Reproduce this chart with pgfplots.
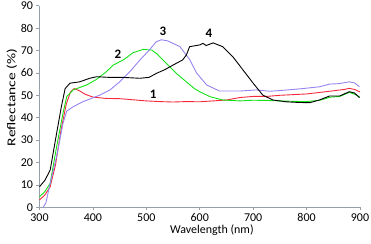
\documentclass[border=0pt]{standalone}
\usepackage{pgfplots}
\pgfplotsset{compat=1.18}
\usepackage{graphicx}
\usepackage{fontspec}
\setmainfont{Carlito}
\definecolor{axgray}{RGB}{150,160,170}
\definecolor{cred}{RGB}{245,40,60}
\definecolor{cgreen}{RGB}{20,225,20}
\definecolor{cpurple}{RGB}{150,130,240}
\begin{document}
\begin{tikzpicture}
\path[use as bounding box] (-39.5bp,-36.7bp) rectangle (331.5bp,207.3bp);
\begin{axis}[
  scale only axis,
  width=320.5bp, height=201.6bp,
  xmin=300, xmax=900, ymin=0, ymax=90,
  axis x line=bottom, axis y line=left,
  axis line style={axgray, line width=0.6pt, -},
  xtick={300,400,...,900}, ytick={0,10,...,90},
  tick style={axgray, line width=0.6pt},
  tick align=outside, major tick length=3bp,
  /pgf/number format/assume math mode=true,
  /pgf/number format/set thousands separator={},
  tick label style={font=\fontsize{12}{14}\selectfont},
  label style={font=\fontsize{12}{14}\selectfont},
  xlabel={Wavelength (nm)}, ylabel={\scalebox{1.3}[1]{Reflectance (\%)}},
  xlabel style={at={(ticklabel cs:0.538)}, yshift=4bp},
  ylabel style={at={(ticklabel cs:0.545)}, yshift=-3bp},
  clip=false,
  every axis plot/.append style={line width=0.9pt, no marks},
]
% 1 red
\addplot[cred] coordinates {
(300,3.3)(310,5.5)(320,9.2)(330,19)(340,34)(350,46)(358,51.5)(365,53)(375,52)(385,50.5)(400,49.2)(425,48.6)(450,48.5)(475,48)(500,47.5)(525,47.2)(550,47)(575,47.2)(600,47.1)(625,47.5)(650,47.9)(675,49)(700,49.5)(725,49.5)(750,50)(775,50.3)(800,50.6)(825,51.3)(850,52)(870,52.6)(880,53.1)(890,52.6)(900,51.5)};
% 2 green
\addplot[cgreen] coordinates {
(300,4.7)(310,7)(320,10.7)(332,27)(344,42)(351,49.4)(363,52.4)(388,54.6)(406,57)(425,60.5)(438,63.5)(457,65.8)(475,69)(494,70.5)(510,70.2)(520,68.5)(531,65.8)(545,62.5)(556,59.8)(575,56)(590,53)(600,51.6)(619,49.4)(643,47.9)(675,47.5)(700,47.8)(725,47.7)(750,47.5)(775,47.3)(800,47.2)(825,47.8)(845,49.2)(862,49.5)(880,51.3)(890,50.5)(900,49.2)};
% 3 purple
\addplot[cpurple] coordinates {
(307,0)(312,2)(320,10.8)(332,22.6)(344,37.5)(351,43)(363,44.9)(381,47.1)(413,50.1)(432,52.4)(450,56)(469,60.5)(488,65.8)(505,70)(518,73.8)(528,74.8)(540,74.3)(563,71.7)(581,66)(594,60)(613,54.6)(637,51.9)(675,51.9)(706,52.4)(731,51.8)(760,52.3)(793,53)(824,53.8)(843,55)(860,55.2)(880,56)(890,55.5)(899,53.8)};
% 4 black
\addplot[black] coordinates {
(300,9.2)(310,12)(320,16.6)(332,33)(341,45)(348,53)(357,55.4)(375,56)(394,57.6)(407,58.3)(430,58)(456,58)(488,57.6)(505,58)(519,59.8)(535,61.5)(550,63.5)(568,65.8)(575,68)(581,71.7)(600,72.5)(606,73.2)(612,72.2)(625,73.4)(643,71.7)(662,67.2)(681,61.3)(700,55.4)(718,50.1)(737,47.9)(762,47.1)(785,46.8)(806,46.7)(824,47.9)(843,49.7)(862,49.7)(880,51.6)(890,51)(899,48.9)};
\node[font=\bfseries\fontsize{13}{15}\selectfont] at (axis cs:513,50.5) {1};
\node[font=\bfseries\fontsize{13}{15}\selectfont] at (axis cs:447,68.5) {2};
\node[font=\bfseries\fontsize{13}{15}\selectfont] at (axis cs:531,78.7) {3};
\node[font=\bfseries\fontsize{13}{15}\selectfont] at (axis cs:617,77.8) {4};
\end{axis}
\end{tikzpicture}
\end{document}
